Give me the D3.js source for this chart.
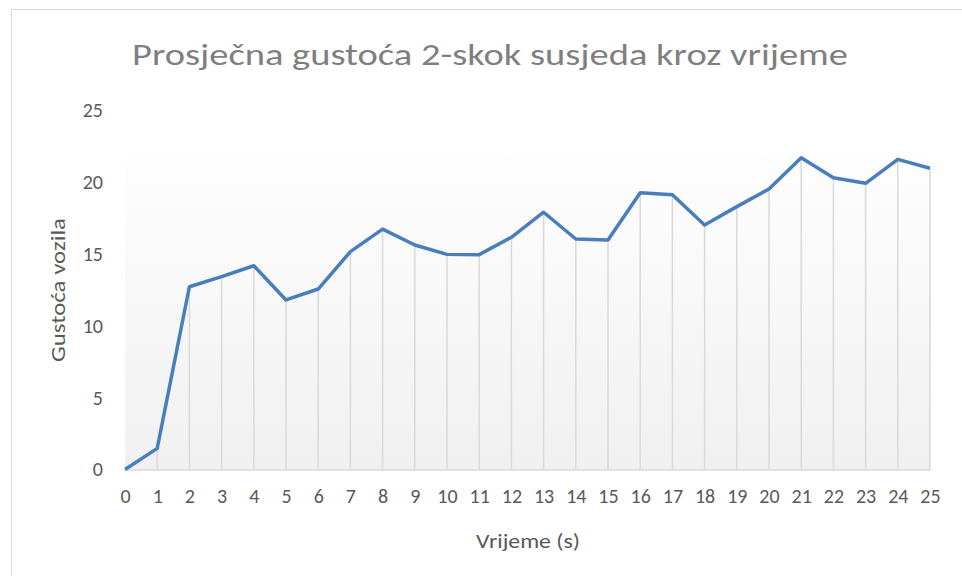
<!DOCTYPE html>
<html>
<head>
<meta charset="utf-8">
<script src="https://cdn.jsdelivr.net/npm/d3@7"></script>
<style>
  html, body { margin: 0; padding: 0; background: #fff; }
  svg { display: block; }
</style>
</head>
<body>
<div id="chart"></div>
<script>
// Average 2-hop neighbour density per second of simulation
const times = d3.range(0, 26);
const density = [0, 1.47, 12.71, 13.41, 14.17, 11.79, 12.55, 15.15, 16.72, 15.61,
                 14.96, 14.94, 16.15, 17.89, 16.03, 15.96, 19.25, 19.11, 17.0, 18.28,
                 19.51, 21.68, 20.29, 19.9, 21.57, 20.95];
const yTicks = [0, 5, 10, 15, 20, 25];

const chartTitle = "Prosječna gustoća 2-skok susjeda kroz vrijeme";
const xTitle = "Vrijeme (s)";
const yTitle = "Gustoća vozila";

const W = 962, H = 576;
const font = "Calibri, Carlito, Lato, 'Open Sans', sans-serif";

const svg = d3.select("#chart").append("svg")
  .attr("width", W).attr("height", H);

// chart frame
svg.append("rect")
  .attr("x", 11.5).attr("y", 9.5)
  .attr("width", W + 10).attr("height", H + 10)
  .attr("fill", "#fff").attr("stroke", "#d9d9d9").attr("stroke-width", 1);

const x = d3.scaleLinear().domain([0, 25]).range([125, 930]);
const y = d3.scaleLinear().domain([0, 25]).range([469.5, 110]);

// background gradient under the series
const defs = svg.append("defs");
const grad = defs.append("linearGradient")
  .attr("id", "bg").attr("x1", 0).attr("y1", 0).attr("x2", 0).attr("y2", 1);
grad.append("stop").attr("offset", "0%").attr("stop-color", "#fefefe");
grad.append("stop").attr("offset", "100%").attr("stop-color", "#f0f0f0");

const bgTop = y(d3.max(density)) - 2;
svg.append("rect")
  .attr("x", x(0)).attr("y", bgTop)
  .attr("width", x(25) - x(0)).attr("height", y(0) - bgTop)
  .attr("fill", "url(#bg)");

// drop lines from each point to the axis
svg.append("g").selectAll("line")
  .data(times)
  .join("line")
  .attr("x1", d => x(d)).attr("x2", d => x(d))
  .attr("y1", (d, i) => y(density[i])).attr("y2", y(0))
  .attr("stroke", "#d9d9d9").attr("stroke-width", 1.5);

// x axis
const xAxis = svg.append("g")
  .attr("transform", `translate(0,${y(0)})`)
  .call(d3.axisBottom(x).tickValues(times).tickSize(0).tickPadding(19).tickFormat(d3.format("d")));
xAxis.select(".domain").attr("stroke", "#d9d9d9").attr("stroke-width", 1.5);
xAxis.selectAll("text")
  .attr("fill", "#595959").attr("font-size", 20).attr("font-family", font);

// y axis
const yAxis = svg.append("g")
  .attr("transform", `translate(${x(0)},0)`)
  .call(d3.axisLeft(y).tickValues(yTicks).tickSize(0).tickPadding(22));
yAxis.select(".domain").remove();
yAxis.selectAll("text")
  .attr("fill", "#595959").attr("font-size", 20).attr("font-family", font);

// series line
svg.append("path")
  .datum(times)
  .attr("fill", "none")
  .attr("stroke", "#4a7ebb")
  .attr("stroke-width", 3.5)
  .attr("stroke-linejoin", "round")
  .attr("d", d3.line().x(d => x(d)).y((d, i) => y(density[i])));

// titles
svg.append("text")
  .attr("x", 132).attr("y", 65)
  .attr("fill", "#7f7f7f").attr("font-size", 31).attr("font-weight", 300)
  .attr("font-family", font)
  .attr("textLength", 716).attr("lengthAdjust", "spacingAndGlyphs")
  .text(chartTitle);

svg.append("text")
  .attr("x", 476).attr("y", 548)
  .attr("fill", "#595959").attr("font-size", 20).attr("font-family", font)
  .attr("textLength", 104).attr("lengthAdjust", "spacingAndGlyphs")
  .text(xTitle);

svg.append("text")
  .attr("transform", "translate(65,362) rotate(-90)")
  .attr("fill", "#595959").attr("font-size", 20).attr("font-family", font)
  .attr("textLength", 144).attr("lengthAdjust", "spacingAndGlyphs")
  .text(yTitle);
</script>
</body>
</html>
